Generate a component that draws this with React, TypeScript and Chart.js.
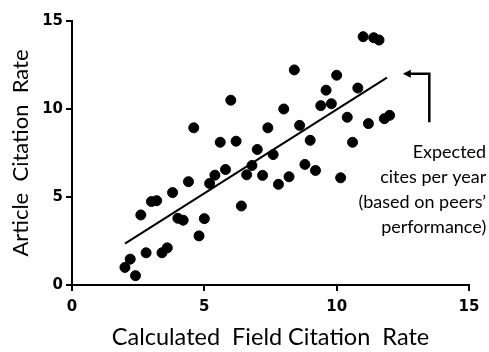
import React, { useEffect, useRef } from "react";
import { Chart, registerables } from "chart.js";

Chart.register(...registerables);

const fieldRate = [
  2.0, 2.2, 2.4, 2.6, 2.8, 3.0, 3.2, 3.4, 3.6, 3.8, 4.0, 4.2, 4.4, 4.6, 4.8, 5.0, 5.2,
  5.4, 5.6, 5.8, 6.0, 6.2, 6.4, 6.6, 6.8, 7.0, 7.2, 7.4, 7.6, 7.8, 8.0, 8.2, 8.4, 8.6,
  8.8, 9.0, 9.2, 9.4, 9.6, 9.8, 10.0, 10.15, 10.4, 10.6, 10.8, 11.0, 11.2, 11.4, 11.6,
  11.8, 12.0,
];
const articleRate = [
  1.0, 1.47, 0.53, 3.98, 1.83, 4.74, 4.79, 1.83, 2.11, 5.25, 3.79, 3.68, 5.87, 8.93,
  2.79, 3.77, 5.77, 6.24, 8.11, 6.56, 10.5, 8.17, 4.49, 6.26, 6.79, 7.7, 6.23, 8.93,
  7.41, 5.72, 10.0, 6.15, 12.22, 9.07, 6.85, 8.22, 6.51, 10.19, 11.07, 10.3, 11.92,
  6.09, 9.53, 8.11, 11.19, 14.11, 9.17, 14.05, 13.92, 9.45, 9.64,
];
const fitX = [2.0, 11.9];
const fitY = [2.35, 11.78];
const xTicks = [0, 5, 10, 15];
const yTicks = [0, 5, 10, 15];
const annotationLines = ["Expected", "cites per year", "(based on peers\u2019", "performance)"];

const tickFont = { family: "'DejaVu Sans', sans-serif", weight: "bold" as any, size: 15 };

const annotationPlugin = {
  id: "annotationArrow",
  afterDraw(chart: any) {
    const { ctx } = chart;
    const xs = chart.scales.x;
    const ys = chart.scales.y;
    const tipX = xs.getPixelForValue(12.5);
    const cornerX = xs.getPixelForValue(13.5);
    const topY = ys.getPixelForValue(12.0);
    const bottomY = ys.getPixelForValue(9.25);
    ctx.save();
    ctx.strokeStyle = "#000";
    ctx.fillStyle = "#000";
    ctx.lineWidth = 2.5;
    ctx.beginPath();
    ctx.moveTo(tipX + 6, topY);
    ctx.lineTo(cornerX, topY);
    ctx.lineTo(cornerX, bottomY);
    ctx.stroke();
    ctx.beginPath();
    ctx.moveTo(tipX, topY);
    ctx.lineTo(tipX + 8, topY - 4);
    ctx.lineTo(tipX + 8, topY + 4);
    ctx.closePath();
    ctx.fill();
    ctx.font = "18px Lato";
    ctx.textAlign = "right";
    ctx.textBaseline = "middle";
    const textRight = xs.getPixelForValue(15.65);
    const firstY = ys.getPixelForValue(7.55);
    annotationLines.forEach((line, i) => {
      ctx.fillText(line, textRight, firstY + i * 25);
    });
    ctx.restore();
  },
};

export default function App() {
  const canvasRef = useRef<HTMLCanvasElement | null>(null);
  useEffect(() => {
    const canvas = canvasRef.current;
    if (!canvas) return;
    const chart = new Chart(canvas, {
      type: "scatter",
      data: {
        datasets: [
          {
            type: "scatter",
            data: fieldRate.map((x, i) => ({ x, y: articleRate[i] })),
            backgroundColor: "#000",
            borderColor: "#000",
            pointRadius: 5,
            pointHoverRadius: 5,
          },
          {
            type: "line",
            data: fitX.map((x, i) => ({ x, y: fitY[i] })),
            borderColor: "#000",
            borderWidth: 2,
            pointRadius: 0,
            fill: false,
          } as any,
        ],
      },
      options: {
        animation: false,
        responsive: false,
        maintainAspectRatio: false,
        layout: { padding: { top: 21, right: 20, left: 0, bottom: 0 } },
        plugins: { legend: { display: false }, tooltip: { enabled: false } },
        scales: {
          x: {
            type: "linear",
            min: 0,
            max: 15,
            afterFit: (s: any) => {
              s.height = 67;
            },
            afterBuildTicks: (s: any) => {
              s.ticks = xTicks.map((v) => ({ value: v }));
            },
            grid: { drawOnChartArea: false, drawTicks: true, tickLength: 6, color: "#000", lineWidth: 2 },
            border: { display: true, color: "#000", width: 2 },
            ticks: {
              color: "#000",
              padding: 7,
              font: tickFont,
            },
            title: {
              display: true,
              text: "Calculated  Field Citation  Rate",
              color: "#000",
              font: { family: "Lato", size: 23.5 },
              padding: { top: 0, bottom: 0 },
            },
          },
          y: {
            type: "linear",
            min: 0,
            max: 15,
            afterFit: (s: any) => {
              s.width = 72;
            },
            afterBuildTicks: (s: any) => {
              s.ticks = yTicks.map((v) => ({ value: v }));
            },
            grid: { drawOnChartArea: false, drawTicks: true, tickLength: 6, color: "#000", lineWidth: 2 },
            border: { display: true, color: "#000", width: 2 },
            ticks: {
              color: "#000",
              padding: 3,
              font: tickFont,
            },
            title: {
              display: true,
              text: "Article  Citation  Rate",
              color: "#000",
              font: { family: "Lato", size: 22 },
              padding: { top: 8, bottom: 0 },
            },
          },
        },
      },
      plugins: [annotationPlugin],
    });
    return () => chart.destroy();
  }, []);
  return (
    <div style={{ position: "fixed", left: 0, top: 0, width: 489, height: 352, background: "#fff" }}>
      <canvas ref={canvasRef} width={489} height={352} style={{ width: 489, height: 352 }} />
    </div>
  );
}
